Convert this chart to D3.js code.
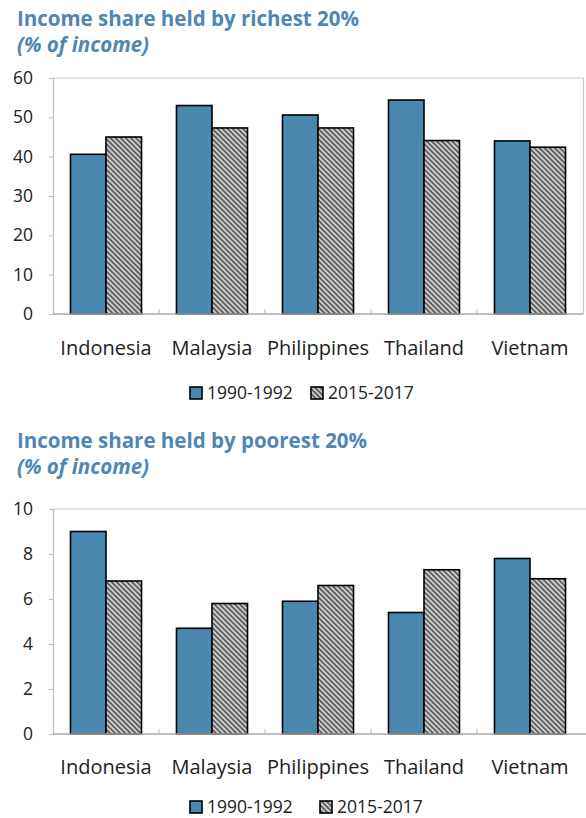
<!DOCTYPE html>
<html>
<head>
<meta charset="utf-8">
<script src="https://cdn.jsdelivr.net/npm/d3@7"></script>
<style>
  body { margin: 0; background: #fff; }
  svg { font-family: "Open Sans", "Noto Sans", sans-serif; }
</style>
</head>
<body>
<svg id="chart" width="586" height="818"></svg>
<script>
const countries = ["Indonesia", "Malaysia", "Philippines", "Thailand", "Vietnam"];
const periods = ["1990-1992", "2015-2017"];

const richest1990 = [40.6, 53.0, 50.6, 54.4, 44.0];
const richest2015 = [45.0, 47.3, 47.3, 44.1, 42.4];
const richestTicks = [0, 10, 20, 30, 40, 50, 60];

const poorest1990 = [9.0, 4.7, 5.9, 5.4, 7.8];
const poorest2015 = [6.8, 5.8, 6.6, 7.3, 6.9];
const poorestTicks = [0, 2, 4, 6, 8, 10];

const blue = "#4a87ad";
const titleColor = "#4f86b3";

const svg = d3.select("#chart");

// hatch pattern for the later period
const defs = svg.append("defs");
const pat = defs.append("pattern")
    .attr("id", "hatch")
    .attr("patternUnits", "userSpaceOnUse")
    .attr("width", 3.6)
    .attr("height", 3.6)
    .attr("patternTransform", "rotate(45)");
pat.append("rect").attr("width", 3.6).attr("height", 3.6).attr("fill", "#fff");
pat.append("line")
    .attr("x1", 0).attr("y1", 0.9).attr("x2", 3.6).attr("y2", 0.9)
    .attr("stroke", "#111").attr("stroke-width", 1.2);
pat.append("line")
    .attr("x1", 0).attr("y1", 2.7).attr("x2", 3.6).attr("y2", 2.7)
    .attr("stroke", "#8c8c8c").attr("stroke-width", 0.8);

function drawChart(opt) {
    const g = svg.append("g");

    g.append("text")
        .attr("x", 17).attr("y", opt.titleY)
        .attr("fill", titleColor)
        .attr("font-weight", "bold")
        .attr("font-size", 20.5)
        .text(opt.title);
    g.append("text")
        .attr("x", 17).attr("y", opt.titleY + 26)
        .attr("fill", titleColor)
        .attr("font-weight", "bold")
        .attr("font-style", "italic")
        .attr("font-size", 20.5)
        .text("(% of income)");

    const y = d3.scaleLinear().domain(opt.domain).range([opt.bottom, opt.top]);
    const x0 = d3.scaleBand().domain(countries).range([53, 583])
        .paddingInner(0.33).paddingOuter(0.165);
    const x1 = d3.scaleBand().domain(periods).range([0, x0.bandwidth()]);

    // frame
    g.append("line")
        .attr("x1", 53).attr("x2", opt.frameRight)
        .attr("y1", opt.top).attr("y2", opt.top)
        .attr("stroke", "#c8c8c8").attr("stroke-width", 1.2);
    if (opt.rightBorder) {
        g.append("line")
            .attr("x1", opt.frameRight).attr("x2", opt.frameRight)
            .attr("y1", opt.top).attr("y2", opt.bottom)
            .attr("stroke", "#c8c8c8").attr("stroke-width", 1.2);
    }

    const yAxis = g.append("g")
        .attr("transform", "translate(53,0)")
        .call(d3.axisLeft(y).tickValues(opt.ticks).tickSize(4).tickPadding(16));
    yAxis.select(".domain").attr("stroke", "#bdbdbd").attr("stroke-width", 1.2);
    yAxis.selectAll(".tick line").attr("stroke", "#bdbdbd");
    yAxis.selectAll(".tick text")
        .attr("font-size", 17.5)
        .attr("fill", "#222")
        .attr("font-family", "'Open Sans', sans-serif");

    // category separators
    g.selectAll(".sep")
        .data(countries.slice(1))
        .join("line")
        .attr("x1", d => x0(d) - x0.step() * 0.165)
        .attr("x2", d => x0(d) - x0.step() * 0.165)
        .attr("y1", opt.bottom).attr("y2", opt.bottom - 5)
        .attr("stroke", "#bdbdbd");

    const groups = g.selectAll(".grp")
        .data(countries.map((c, i) => ({ c, vals: [opt.a[i], opt.b[i]] })))
        .join("g")
        .attr("transform", d => `translate(${x0(d.c)},0)`);

    groups.selectAll("rect")
        .data(d => d.vals.map((v, j) => ({ p: periods[j], v })))
        .join("rect")
        .attr("x", d => x1(d.p))
        .attr("y", d => y(d.v))
        .attr("width", x1.bandwidth())
        .attr("height", d => opt.bottom - y(d.v))
        .attr("fill", (d, j) => j === 0 ? blue : "url(#hatch)")
        .attr("stroke", "#000")
        .attr("stroke-width", 1.6);

    // baseline
    g.append("line")
        .attr("x1", 53).attr("x2", opt.frameRight)
        .attr("y1", opt.bottom).attr("y2", opt.bottom)
        .attr("stroke", "#a8a8a8").attr("stroke-width", 1.5);

    g.selectAll(".cat")
        .data(countries)
        .join("text")
        .attr("x", d => x0(d) + x0.bandwidth() / 2)
        .attr("y", opt.catY)
        .attr("text-anchor", "middle")
        .attr("font-size", 20)
        .attr("fill", "#222")
        .text(d => d);

    // legend
    const leg = g.append("g");
    opt.legendX.forEach((lx, i) => {
        leg.append("rect")
            .attr("x", lx).attr("y", opt.legendY - 12)
            .attr("width", 12).attr("height", 12)
            .attr("fill", i === 0 ? blue : "url(#hatch)")
            .attr("stroke", "#000").attr("stroke-width", 1.6);
        leg.append("text")
            .attr("x", lx + 17).attr("y", opt.legendY)
            .attr("font-size", 17.5)
            .attr("fill", "#222")
            .text(periods[i]);
    });
}

drawChart({
    title: "Income share held by richest 20%",
    titleY: 26,
    top: 78, bottom: 314,
    frameRight: 583.5, rightBorder: true,
    domain: [0, 60], ticks: richestTicks,
    a: richest1990, b: richest2015,
    catY: 355,
    legendY: 399, legendX: [190, 311]
});

drawChart({
    title: "Income share held by poorest 20%",
    titleY: 448,
    top: 509, bottom: 734,
    frameRight: 586, rightBorder: false,
    domain: [0, 10], ticks: poorestTicks,
    a: poorest1990, b: poorest2015,
    catY: 774,
    legendY: 813, legendX: [190, 320]
});
</script>
</body>
</html>
